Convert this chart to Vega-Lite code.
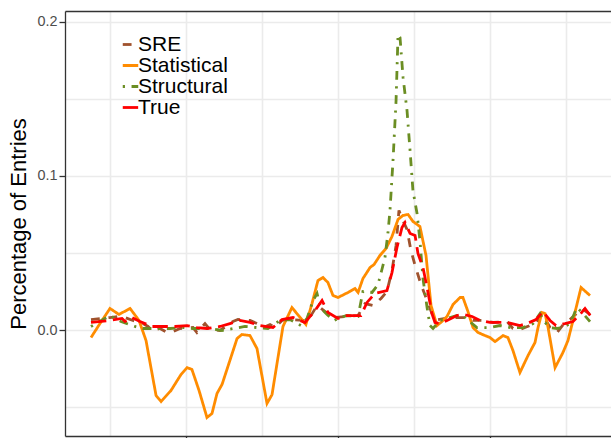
{
"$schema": "https://vega.github.io/schema/vega-lite/v6.json",
"width": 546, "height": 425,
"autosize": {"type": "none"},
"padding": {"left": 65, "top": 11, "right": 0, "bottom": 2},
"config": {
  "view": {"stroke": null},
  "font": "Liberation Sans",
  "axis": {"gridColor": "#ebebeb", "gridWidth": 1.6, "domainColor": "#333333", "domainWidth": 1.3, "tickColor": "#333333", "tickWidth": 1.3},
  "legend": {"orient": "none", "legendX": 55, "legendY": 23, "padding": 0, "labelFontSize": 21, "labelFont": "Liberation Sans", "labelColor": "black", "symbolType": "stroke", "symbolSize": 240, "symbolStrokeWidth": 2.8, "rowPadding": -2.5, "labelOffset": -3}
},
"data": {"values": [
{"s":"SRE","t":3.75,"v":0.0068},{"s":"SRE","t":5.0,"v":0.0081},{"s":"SRE","t":5.53,"v":0.0088},{"s":"SRE","t":5.99,"v":0.0081},{"s":"SRE","t":6.51,"v":0.0062},{"s":"SRE","t":7.17,"v":0.0042},{"s":"SRE","t":7.5,"v":0.0023},{"s":"SRE","t":7.76,"v":-0.0003},{"s":"SRE","t":8.29,"v":0.0010},{"s":"SRE","t":8.75,"v":-0.0016},{"s":"SRE","t":9.14,"v":-0.0010},{"s":"SRE","t":9.61,"v":0.0010},{"s":"SRE","t":10.46,"v":0.0016},{"s":"SRE","t":10.72,"v":-0.0016},{"s":"SRE","t":11.25,"v":0.0042},{"s":"SRE","t":11.58,"v":0.0003},{"s":"SRE","t":12.24,"v":-0.0003},{"s":"SRE","t":12.7,"v":0.0029},{"s":"SRE","t":13.09,"v":0.0055},{"s":"SRE","t":13.42,"v":0.0068},{"s":"SRE","t":14.21,"v":0.0062},{"s":"SRE","t":14.67,"v":0.0042},{"s":"SRE","t":15.07,"v":0.0016},{"s":"SRE","t":15.53,"v":0.0036},{"s":"SRE","t":15.86,"v":0.0016},{"s":"SRE","t":16.32,"v":0.0062},{"s":"SRE","t":16.84,"v":0.0068},{"s":"SRE","t":17.7,"v":0.0062},{"s":"SRE","t":18.03,"v":0.0062},{"s":"SRE","t":18.62,"v":0.0159},{"s":"SRE","t":18.82,"v":0.0146},{"s":"SRE","t":19.47,"v":0.0094},{"s":"SRE","t":19.8,"v":0.0081},{"s":"SRE","t":21.32,"v":0.0094},{"s":"SRE","t":21.78,"v":0.0172},{"s":"SRE","t":22.3,"v":0.0159},{"s":"SRE","t":22.83,"v":0.0205},{"s":"SRE","t":23.22,"v":0.0250},{"s":"SRE","t":23.55,"v":0.0386},{"s":"SRE","t":23.82,"v":0.0549},{"s":"SRE","t":24.01,"v":0.0776},{"s":"SRE","t":24.21,"v":0.0724},{"s":"SRE","t":24.54,"v":0.0653},{"s":"SRE","t":24.8,"v":0.0516},{"s":"SRE","t":25.07,"v":0.0419},{"s":"SRE","t":25.46,"v":0.0295},{"s":"SRE","t":25.86,"v":0.0192},{"s":"SRE","t":26.25,"v":0.0088},{"s":"SRE","t":26.58,"v":0.0068},{"s":"SRE","t":27.37,"v":0.0081},{"s":"SRE","t":27.83,"v":0.0081},{"s":"SRE","t":28.36,"v":0.0081},{"s":"SRE","t":28.88,"v":0.0062},{"s":"SRE","t":29.54,"v":0.0062},{"s":"SRE","t":30.2,"v":0.0049},{"s":"SRE","t":31.12,"v":0.0055},{"s":"SRE","t":31.51,"v":0.0010},{"s":"SRE","t":31.84,"v":-0.0003},{"s":"SRE","t":32.3,"v":0.0016},{"s":"SRE","t":33.09,"v":0.0049},{"s":"SRE","t":33.42,"v":0.0107},{"s":"SRE","t":33.95,"v":0.0016},{"s":"SRE","t":34.41,"v":-0.0016},{"s":"SRE","t":34.93,"v":0.0049},{"s":"SRE","t":35.26,"v":0.0068},{"s":"SRE","t":36.05,"v":0.0140},{"s":"SRE","t":36.58,"v":0.0101},
{"s":"Statistical","t":3.75,"v":-0.0049},{"s":"Statistical","t":4.34,"v":0.0042},{"s":"Statistical","t":5.0,"v":0.0140},{"s":"Statistical","t":5.59,"v":0.0101},{"s":"Statistical","t":6.32,"v":0.0140},{"s":"Statistical","t":6.91,"v":0.0062},{"s":"Statistical","t":7.37,"v":-0.0068},{"s":"Statistical","t":8.03,"v":-0.0425},{"s":"Statistical","t":8.36,"v":-0.0464},{"s":"Statistical","t":9.01,"v":-0.0393},{"s":"Statistical","t":9.67,"v":-0.0289},{"s":"Statistical","t":10.07,"v":-0.0244},{"s":"Statistical","t":10.39,"v":-0.0256},{"s":"Statistical","t":10.86,"v":-0.0393},{"s":"Statistical","t":11.38,"v":-0.0568},{"s":"Statistical","t":11.71,"v":-0.0542},{"s":"Statistical","t":12.04,"v":-0.0412},{"s":"Statistical","t":12.37,"v":-0.0354},{"s":"Statistical","t":13.36,"v":-0.0055},{"s":"Statistical","t":13.68,"v":-0.0029},{"s":"Statistical","t":14.21,"v":-0.0036},{"s":"Statistical","t":14.67,"v":-0.0120},{"s":"Statistical","t":15.33,"v":-0.0477},{"s":"Statistical","t":15.66,"v":-0.0419},{"s":"Statistical","t":16.38,"v":0.0023},{"s":"Statistical","t":16.97,"v":0.0146},{"s":"Statistical","t":17.89,"v":0.0036},{"s":"Statistical","t":18.29,"v":0.0172},{"s":"Statistical","t":18.68,"v":0.0321},{"s":"Statistical","t":19.01,"v":0.0341},{"s":"Statistical","t":19.34,"v":0.0308},{"s":"Statistical","t":19.67,"v":0.0224},{"s":"Statistical","t":20.0,"v":0.0211},{"s":"Statistical","t":20.66,"v":0.0244},{"s":"Statistical","t":21.12,"v":0.0269},{"s":"Statistical","t":21.32,"v":0.0244},{"s":"Statistical","t":21.64,"v":0.0334},{"s":"Statistical","t":22.11,"v":0.0406},{"s":"Statistical","t":22.37,"v":0.0425},{"s":"Statistical","t":22.76,"v":0.0484},{"s":"Statistical","t":23.16,"v":0.0529},{"s":"Statistical","t":23.55,"v":0.0607},{"s":"Statistical","t":23.95,"v":0.0718},{"s":"Statistical","t":24.28,"v":0.0744},{"s":"Statistical","t":24.61,"v":0.0750},{"s":"Statistical","t":24.93,"v":0.0705},{"s":"Statistical","t":25.39,"v":0.0672},{"s":"Statistical","t":25.79,"v":0.0484},{"s":"Statistical","t":26.12,"v":0.0159},{"s":"Statistical","t":26.51,"v":0.0029},{"s":"Statistical","t":26.84,"v":0.0055},{"s":"Statistical","t":27.17,"v":0.0088},{"s":"Statistical","t":27.57,"v":0.0166},{"s":"Statistical","t":28.03,"v":0.0211},{"s":"Statistical","t":28.22,"v":0.0211},{"s":"Statistical","t":28.55,"v":0.0120},{"s":"Statistical","t":28.88,"v":0.0016},{"s":"Statistical","t":29.21,"v":-0.0016},{"s":"Statistical","t":29.67,"v":-0.0036},{"s":"Statistical","t":30.0,"v":-0.0049},{"s":"Statistical","t":30.33,"v":-0.0075},{"s":"Statistical","t":30.86,"v":-0.0036},{"s":"Statistical","t":31.18,"v":-0.0049},{"s":"Statistical","t":31.51,"v":-0.0133},{"s":"Statistical","t":31.97,"v":-0.0276},{"s":"Statistical","t":32.5,"v":-0.0166},{"s":"Statistical","t":32.96,"v":-0.0081},{"s":"Statistical","t":33.16,"v":0.0016},{"s":"Statistical","t":33.42,"v":0.0114},{"s":"Statistical","t":33.62,"v":0.0107},{"s":"Statistical","t":33.82,"v":0.0016},{"s":"Statistical","t":34.28,"v":-0.0244},{"s":"Statistical","t":34.8,"v":-0.0146},{"s":"Statistical","t":35.13,"v":-0.0068},{"s":"Statistical","t":35.46,"v":0.0062},{"s":"Statistical","t":35.99,"v":0.0276},{"s":"Statistical","t":36.58,"v":0.0224},
{"s":"Structural","t":3.75,"v":0.0023},{"s":"Structural","t":5.0,"v":0.0094},{"s":"Structural","t":5.72,"v":0.0055},{"s":"Structural","t":6.64,"v":0.0023},{"s":"Structural","t":7.17,"v":0.0010},{"s":"Structural","t":8.09,"v":0.0010},{"s":"Structural","t":8.95,"v":0.0010},{"s":"Structural","t":9.8,"v":0.0016},{"s":"Structural","t":10.46,"v":0.0010},{"s":"Structural","t":11.58,"v":0.0010},{"s":"Structural","t":12.37,"v":-0.0003},{"s":"Structural","t":13.88,"v":0.0023},{"s":"Structural","t":14.67,"v":0.0016},{"s":"Structural","t":15.39,"v":0.0010},{"s":"Structural","t":16.18,"v":0.0062},{"s":"Structural","t":16.84,"v":0.0068},{"s":"Structural","t":17.57,"v":0.0029},{"s":"Structural","t":17.96,"v":0.0075},{"s":"Structural","t":18.36,"v":0.0192},{"s":"Structural","t":18.62,"v":0.0237},{"s":"Structural","t":18.88,"v":0.0140},{"s":"Structural","t":19.28,"v":0.0101},{"s":"Structural","t":19.74,"v":0.0062},{"s":"Structural","t":20.13,"v":0.0081},{"s":"Structural","t":20.59,"v":0.0094},{"s":"Structural","t":21.32,"v":0.0088},{"s":"Structural","t":21.64,"v":0.0250},{"s":"Structural","t":22.24,"v":0.0244},{"s":"Structural","t":22.63,"v":0.0295},{"s":"Structural","t":22.89,"v":0.0393},{"s":"Structural","t":23.09,"v":0.0471},{"s":"Structural","t":23.29,"v":0.0633},{"s":"Structural","t":23.42,"v":0.0776},{"s":"Structural","t":23.62,"v":0.1101},{"s":"Structural","t":23.82,"v":0.1490},{"s":"Structural","t":23.95,"v":0.1919},{"s":"Structural","t":24.08,"v":0.1899},{"s":"Structural","t":24.28,"v":0.1640},{"s":"Structural","t":24.54,"v":0.1425},{"s":"Structural","t":24.74,"v":0.1166},{"s":"Structural","t":24.93,"v":0.0906},{"s":"Structural","t":25.2,"v":0.0756},{"s":"Structural","t":25.39,"v":0.0581},{"s":"Structural","t":25.59,"v":0.0334},{"s":"Structural","t":25.86,"v":0.0146},{"s":"Structural","t":26.05,"v":0.0029},{"s":"Structural","t":26.25,"v":0.0010},{"s":"Structural","t":26.71,"v":0.0062},{"s":"Structural","t":27.37,"v":0.0081},{"s":"Structural","t":27.83,"v":0.0094},{"s":"Structural","t":28.36,"v":0.0081},{"s":"Structural","t":28.82,"v":0.0042},{"s":"Structural","t":29.14,"v":0.0016},{"s":"Structural","t":30.0,"v":0.0016},{"s":"Structural","t":30.66,"v":0.0029},{"s":"Structural","t":31.32,"v":0.0016},{"s":"Structural","t":32.17,"v":0.0016},{"s":"Structural","t":32.83,"v":0.0042},{"s":"Structural","t":33.29,"v":0.0107},{"s":"Structural","t":33.49,"v":0.0062},{"s":"Structural","t":33.95,"v":0.0016},{"s":"Structural","t":34.41,"v":0.0010},{"s":"Structural","t":34.8,"v":0.0016},{"s":"Structural","t":35.26,"v":0.0042},{"s":"Structural","t":35.72,"v":0.0146},{"s":"Structural","t":36.12,"v":0.0107},{"s":"Structural","t":36.58,"v":0.0055},
{"s":"True","t":3.75,"v":0.0049},{"s":"True","t":5.0,"v":0.0062},{"s":"True","t":5.79,"v":0.0075},{"s":"True","t":5.99,"v":0.0055},{"s":"True","t":6.45,"v":0.0081},{"s":"True","t":6.97,"v":0.0055},{"s":"True","t":7.76,"v":0.0023},{"s":"True","t":8.49,"v":0.0023},{"s":"True","t":9.28,"v":0.0023},{"s":"True","t":10.07,"v":0.0029},{"s":"True","t":10.72,"v":0.0016},{"s":"True","t":11.38,"v":0.0010},{"s":"True","t":12.24,"v":0.0023},{"s":"True","t":12.89,"v":0.0042},{"s":"True","t":13.55,"v":0.0062},{"s":"True","t":14.21,"v":0.0049},{"s":"True","t":14.87,"v":0.0029},{"s":"True","t":15.72,"v":0.0016},{"s":"True","t":16.32,"v":0.0068},{"s":"True","t":17.04,"v":0.0081},{"s":"True","t":17.83,"v":0.0049},{"s":"True","t":18.49,"v":0.0127},{"s":"True","t":18.95,"v":0.0192},{"s":"True","t":19.34,"v":0.0114},{"s":"True","t":20.0,"v":0.0075},{"s":"True","t":20.59,"v":0.0094},{"s":"True","t":21.51,"v":0.0094},{"s":"True","t":21.91,"v":0.0179},{"s":"True","t":22.43,"v":0.0237},{"s":"True","t":23.22,"v":0.0256},{"s":"True","t":23.55,"v":0.0373},{"s":"True","t":23.88,"v":0.0536},{"s":"True","t":24.21,"v":0.0666},{"s":"True","t":24.41,"v":0.0698},{"s":"True","t":24.74,"v":0.0627},{"s":"True","t":25.07,"v":0.0614},{"s":"True","t":25.26,"v":0.0497},{"s":"True","t":25.59,"v":0.0406},{"s":"True","t":25.86,"v":0.0276},{"s":"True","t":26.18,"v":0.0107},{"s":"True","t":26.38,"v":0.0049},{"s":"True","t":26.71,"v":0.0042},{"s":"True","t":27.17,"v":0.0062},{"s":"True","t":27.83,"v":0.0094},{"s":"True","t":28.22,"v":0.0101},{"s":"True","t":28.82,"v":0.0088},{"s":"True","t":29.34,"v":0.0062},{"s":"True","t":30.0,"v":0.0049},{"s":"True","t":31.12,"v":0.0049},{"s":"True","t":31.97,"v":0.0029},{"s":"True","t":32.43,"v":0.0042},{"s":"True","t":33.03,"v":0.0068},{"s":"True","t":33.49,"v":0.0120},{"s":"True","t":33.95,"v":0.0062},{"s":"True","t":34.34,"v":0.0029},{"s":"True","t":34.93,"v":0.0042},{"s":"True","t":35.46,"v":0.0055},{"s":"True","t":35.92,"v":0.0101},{"s":"True","t":36.25,"v":0.0140},{"s":"True","t":36.64,"v":0.0088}
]},
"layer": [
 {
  "mark": {"type": "line", "strokeWidth": 2.8, "strokeCap": "butt"},
  "encoding": {
   "x": {"field": "t", "type": "quantitative", "scale": {"domain": [2.04, 37.96], "nice": false, "zero": false},
     "axis": {"orient": "bottom", "title": null, "labels": false, "values": [5, 10, 15, 20, 25, 30, 35], "tickSize": 6,
       "tickOpacity": {"condition": {"test": "datum.value == 10 || datum.value == 20 || datum.value == 30", "value": 1}, "value": 0}}},
   "y": {"field": "v", "type": "quantitative", "scale": {"domain": [-0.0688, 0.2071], "nice": false, "zero": false},
     "axis": {"title": "Percentage of Entries", "titleFontSize": 22, "titleFont": "Liberation Sans", "titleFontWeight": "normal", "titleColor": "black", "titlePadding": 6,
       "values": [-0.05, 0, 0.05, 0.1, 0.15, 0.2],
       "labelExpr": "(datum.value == 0 || datum.value == 0.1 || datum.value == 0.2) ? format(datum.value, '.1f') : ''",
       "labelFontSize": 14.4, "labelColor": "#4d4d4d", "labelPadding": 2, "tickSize": 6,
       "tickOpacity": {"condition": {"test": "datum.value == 0 || datum.value == 0.1 || datum.value == 0.2", "value": 1}, "value": 0}}},
   "color": {"field": "s", "type": "nominal", "title": null,
     "scale": {"domain": ["SRE", "Statistical", "Structural", "True"], "range": ["#a0522d", "#ff8c00", "#6b8e23", "#ff0000"]}},
   "strokeDash": {"field": "s", "type": "nominal", "title": null,
     "scale": {"domain": ["SRE", "Statistical", "Structural", "True"], "range": [[8.8, 8.8], [1, 0], [2.2, 6.6, 8.8, 6.6], [15.4, 6.6]]}}
  }
 },
 {
  "mark": {"type": "rule", "opacity": 0},
  "encoding": {
   "x": {"field": "t", "type": "quantitative", "scale": {"domain": [2.04, 37.96], "nice": false, "zero": false},
     "axis": {"orient": "top", "title": null, "labels": false, "ticks": false, "grid": false}}
  }
 }
],
"resolve": {"axis": {"x": "independent"}}
}
